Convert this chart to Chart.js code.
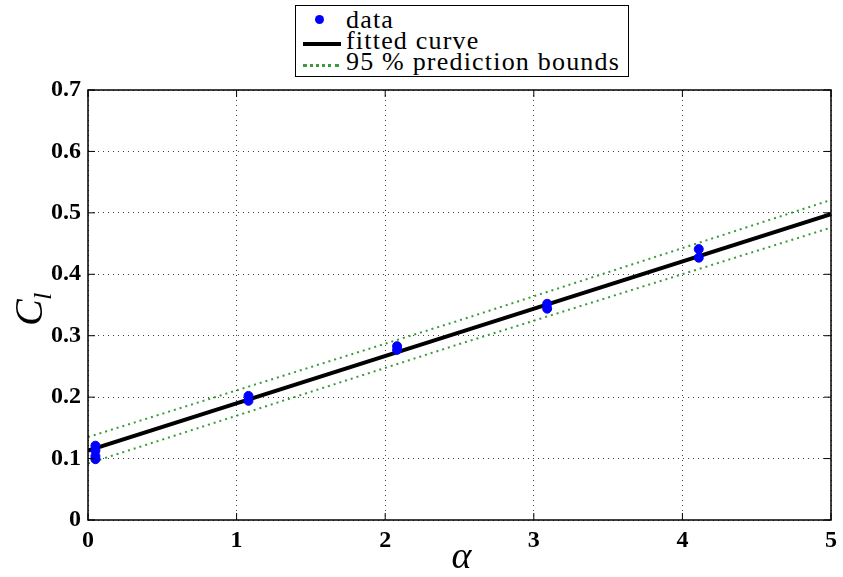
<!DOCTYPE html>
<html>
<head>
<meta charset="UTF-8">
<title>Cl vs alpha</title>
<script src="https://cdn.jsdelivr.net/npm/chart.js"></script>
<style>
    body { margin: 0; background: #fff; }
    #wrap { position: relative; width: 843px; height: 577px; }
    #legend {
        position: absolute; left: 295px; top: 5px; width: 334px; height: 72px;
        border: 1.5px solid #000; background: #fff;
        font-family: "Liberation Serif", "Times New Roman", serif; font-size: 26px; line-height: 21px;
        letter-spacing: 1.2px;
        padding-top: 3px; box-sizing: border-box;
    }
    .row { position: relative; height: 21px; }
    .row span.txt { position: absolute; left: 50px; top: 0px; white-space: nowrap; }
    .dot { position: absolute; left: 19px; top: 6px; width: 9px; height: 9px; border-radius: 50%; background: #0000ff; }
    .solid { position: absolute; left: 7px; top: 12px; width: 38px; border-top: 4px solid #000; }
    .dotted { position: absolute; left: 7px; top: 13px; width: 36px; height: 0; border-top: 3px dotted #3c9a3c; }
</style>
</head>
<body>
<div id="wrap">
    <canvas id="c" width="843" height="577"></canvas>
    <div id="legend">
        <div class="row"><i class="dot"></i><span class="txt">data</span></div>
        <div class="row"><i class="solid"></i><span class="txt">fitted curve</span></div>
        <div class="row"><i class="dotted"></i><span class="txt">95 % prediction bounds</span></div>
    </div>
</div>
<script>
// measured points (alpha, Cl)
const alphaData = [0.05, 0.05, 0.05, 0.05, 1.08, 1.08, 2.08, 2.08, 3.09, 3.09, 4.11, 4.11];
const clData = [0.099, 0.104, 0.113, 0.121, 0.194, 0.202, 0.277, 0.283, 0.344, 0.352, 0.427, 0.441];

// fitted line and prediction bounds
const fitAlpha = [0, 2.5, 5];
const fitCl = [0.113, 0.3055, 0.498];
const upperCl = [0.135, 0.325, 0.521];
const lowerCl = [0.092, 0.2865, 0.476];

const xTicks = [0, 1, 2, 3, 4, 5];
const yTicks = [0, 0.1, 0.2, 0.3, 0.4, 0.5, 0.6, 0.7];

function pts(xs, ys) { return xs.map((x, i) => ({ x: x, y: ys[i] })); }

const SERIF = '"Liberation Serif", "Times New Roman", serif';
const tickFont = { family: SERIF, weight: 'bold', size: 24 };

// box, inward ticks and axis titles like the matlab figure
const boxPlugin = {
    id: 'box',
    afterDraw(chart) {
        const ctx = chart.ctx, a = chart.chartArea;
        const xs = chart.scales.x, ys = chart.scales.y;
        ctx.save();
        ctx.strokeStyle = '#000';
        ctx.lineWidth = 1.5;
        ctx.setLineDash([]);
        ctx.strokeRect(a.left, a.top, a.right - a.left, a.bottom - a.top);
        ctx.lineWidth = 1;
        ctx.beginPath();
        xTicks.forEach(v => {
            const p = xs.getPixelForValue(v);
            ctx.moveTo(p, a.bottom); ctx.lineTo(p, a.bottom - 7);
            ctx.moveTo(p, a.top); ctx.lineTo(p, a.top + 7);
        });
        yTicks.forEach(v => {
            const p = ys.getPixelForValue(v);
            ctx.moveTo(a.left, p); ctx.lineTo(a.left + 7, p);
            ctx.moveTo(a.right, p); ctx.lineTo(a.right - 7, p);
        });
        ctx.stroke();

        ctx.fillStyle = '#000';
        // x title
        ctx.font = 'italic 38px ' + SERIF;
        ctx.textAlign = 'center';
        ctx.textBaseline = 'alphabetic';
        ctx.fillText('α', (a.left + a.right) / 2 + 2, 568);
        // y title, rotated, C with subscript l
        ctx.translate(42, (a.top + a.bottom) / 2 + 5);
        ctx.rotate(-Math.PI / 2);
        ctx.textAlign = 'left';
        ctx.font = 'italic 40px ' + SERIF;
        ctx.fillText('C', -16, 0);
        ctx.font = 'italic 26px ' + SERIF;
        ctx.fillText('l', 10, 9);
        ctx.restore();
    }
};

function drawChart() {
    new Chart(document.getElementById('c'), {
        type: 'scatter',
        data: {
            datasets: [{
                label: 'data',
                data: pts(alphaData, clData),
                backgroundColor: '#0000ff',
                borderColor: '#0000ff',
                pointRadius: 4.5,
                order: 0
            }, {
                label: 'fitted curve',
                data: pts(fitAlpha, fitCl),
                showLine: true,
                borderColor: '#000',
                borderWidth: 4,
                pointRadius: 0,
                order: 1
            }, {
                label: '95 % prediction bounds',
                data: pts(fitAlpha, upperCl),
                showLine: true,
                borderColor: '#3c9a3c',
                borderWidth: 2,
                borderDash: [2, 4],
                pointRadius: 0,
                order: 2
            }, {
                label: 'lower bound',
                data: pts(fitAlpha, lowerCl),
                showLine: true,
                borderColor: '#3c9a3c',
                borderWidth: 2,
                borderDash: [2, 4],
                pointRadius: 0,
                order: 2
            }]
        },
        options: {
            responsive: false,
            animation: false,
            layout: { padding: { top: 90, right: 9, left: 0, bottom: 0 } },
            plugins: { legend: { display: false }, tooltip: { enabled: false } },
            scales: {
                x: {
                    type: 'linear', min: 0, max: 5,
                    afterFit(s) { s.height = 57; },
                    afterBuildTicks(s) { s.ticks = xTicks.map(v => ({ value: v })); },
                    ticks: { font: tickFont, color: '#000', padding: 6 },
                    grid: { color: 'rgba(0,0,0,0.75)', lineWidth: 1, drawTicks: false },
                    border: { display: false, dash: [1, 4] }
                },
                y: {
                    type: 'linear', min: 0, max: 0.7,
                    afterFit(s) { s.width = 88; },
                    afterBuildTicks(s) { s.ticks = yTicks.map(v => ({ value: v })); },
                    ticks: { font: tickFont, color: '#000', padding: 7,
                        callback: v => v === 0 ? '0' : v.toFixed(1) },
                    grid: { color: 'rgba(0,0,0,0.75)', lineWidth: 1, drawTicks: false },
                    border: { display: false, dash: [1, 4] }
                }
            }
        },
        plugins: [boxPlugin]
    });
}

// make sure the serif faces are ready before the canvas text is drawn
Promise.all([
    document.fonts.load('bold 24px "Liberation Serif"'),
    document.fonts.load('italic 38px "Liberation Serif"'),
    document.fonts.load('26px "Liberation Serif"')
]).then(drawChart, drawChart);
</script>
</body>
</html>
